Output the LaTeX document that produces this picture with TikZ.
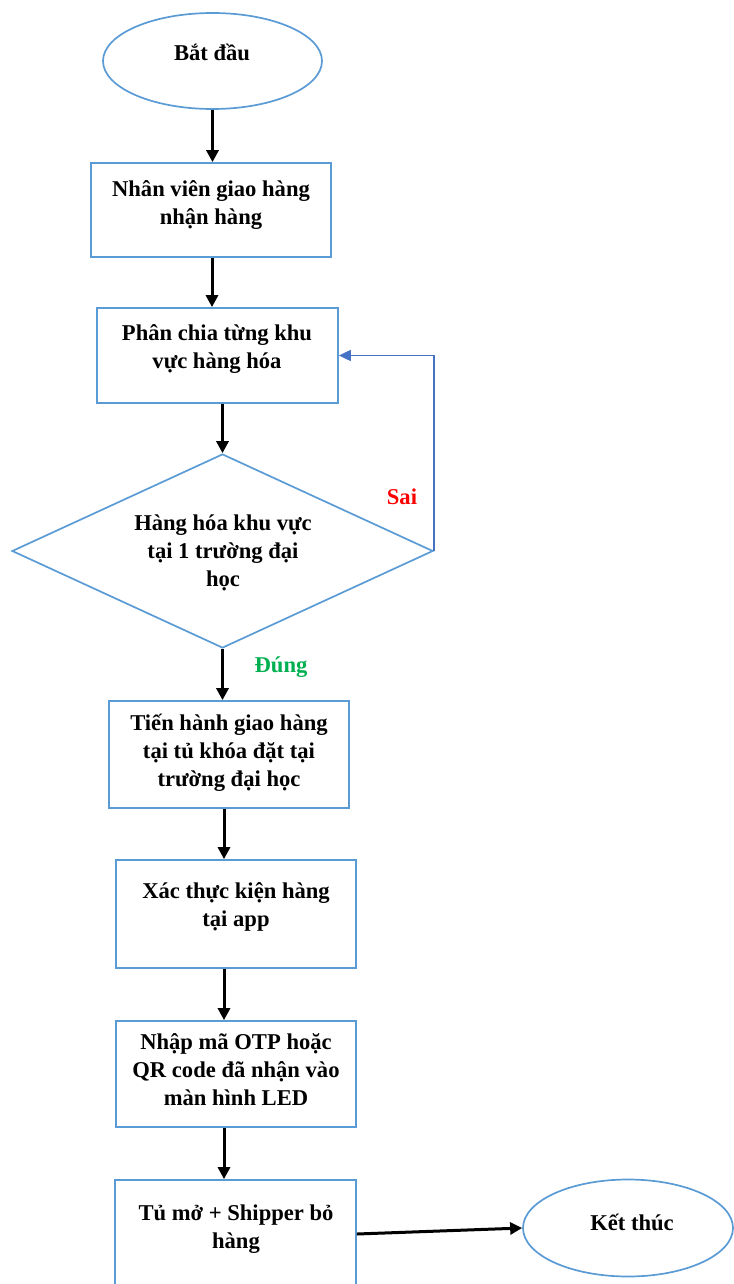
\documentclass[tikz,border=0pt]{standalone}
\usepackage{fontspec}
\setmainfont{Liberation Serif}
\usetikzlibrary{arrows.meta,shapes.geometric,calc}
\definecolor{edgeblue}{HTML}{5B9BD5}
\definecolor{loopblue}{HTML}{4472C4}
\definecolor{nored}{HTML}{FF0000}
\definecolor{yesgreen}{HTML}{00B050}
\tikzset{
  stepbox/.style={draw=edgeblue, line width=1.7pt, rectangle, inner sep=0pt},
  terminal/.style={draw=edgeblue, line width=1.7pt, ellipse, inner sep=0pt},
  decision/.style={draw=edgeblue, line width=1.7pt, diamond, inner sep=0pt},
  label/.style={font=\bfseries\fontsize{22.6}{28}\selectfont, align=center, inner sep=0pt},
  flow/.style={draw=black, line width=3pt, -{Triangle[length=12pt,width=12pt]}},
  back/.style={draw=loopblue, line width=1.8pt, -{Triangle[length=12pt,width=11pt]}},
}
\begin{document}
\begin{tikzpicture}[x=1pt,y=-1pt]
\useasboundingbox (0,0) rectangle (733,1284);

% shapes
\node[terminal, minimum width=219pt, minimum height=96pt] (start) at (212.5,61) {};
\node[stepbox, minimum width=240pt, minimum height=94pt] (b1) at (211,210) {};
\node[stepbox, minimum width=241pt, minimum height=95pt] (b2) at (217.5,355.5) {};
\node[decision, minimum width=421pt, minimum height=194pt] (d) at (222.5,551) {};
\node[stepbox, minimum width=240pt, minimum height=107pt] (b3) at (229,754.5) {};
\node[stepbox, minimum width=240pt, minimum height=108pt] (b4) at (236,914) {};
\node[stepbox, minimum width=240pt, minimum height=106pt] (b5) at (236,1074) {};
% the last box runs past the bottom edge of the page
\node[stepbox, minimum width=241pt, minimum height=110pt] (b6) at (235.5,1235) {};
\node[terminal, minimum width=210pt, minimum height=97pt] (stop) at (628,1228) {};

% texts
\node[label] (t0) at (212,52) {Bắt đầu};
\node[label] (t1) at (211,205) {Nhân viên giao hàng\\nhận hàng};
\node[label] (t2) at (217,349) {Phân chia từng khu\\vực hàng hóa};
\node[label] (td) at (223,553) {Hàng hóa khu vực\\tại 1 trường đại\\học};
\node[label] (t3) at (229,753) {Tiến hành giao hàng\\tại tủ khóa đặt tại\\trường đại học};
\node[label] (t4) at (236,907) {Xác thực kiện hàng\\tại app};
\node[label] (t5) at (236,1070) {Nhập mã OTP hoặc\\QR code đã nhận vào\\màn hình LED};
\node[label] (t6) at (236,1229) {Tủ mở + Shipper bỏ\\hàng};
\node[label] (t7) at (632,1222) {Kết thúc};
\node[label, text=nored] (no) at (402,497) {Sai};
\node[label, text=yesgreen] (yes) at (281,667) {Đúng};

% arrow start points below the boxes
\coordinate (o1) at ($(b1.south)+(1,0)$);
\coordinate (o3) at ($(b3.south)+(-5,0)$);
\coordinate (o4) at ($(b4.south)+(-12,0)$);
\coordinate (o5) at ($(b5.south)+(-12,0)$);
\coordinate (o6) at ($(b6.east)+(0,-1)$);

% connectors
\draw[flow] (start.south) -- (start.south |- b1.north);
\draw[flow] (o1) -- (o1 |- b2.north);
\draw[flow] (d.north |- b2.south) -- (d.north);
\draw[flow] (d.south) -- (d.south |- b3.north);
\draw[flow] (o3) -- (o3 |- b4.north);
\draw[flow] (o4) -- (o4 |- b5.north);
\draw[flow] (o5) -- (o5 |- b6.north);
\draw[flow] (o6) -- (stop.west);
\draw[back] (d.east) |- (b2.east);
\end{tikzpicture}
\end{document}
